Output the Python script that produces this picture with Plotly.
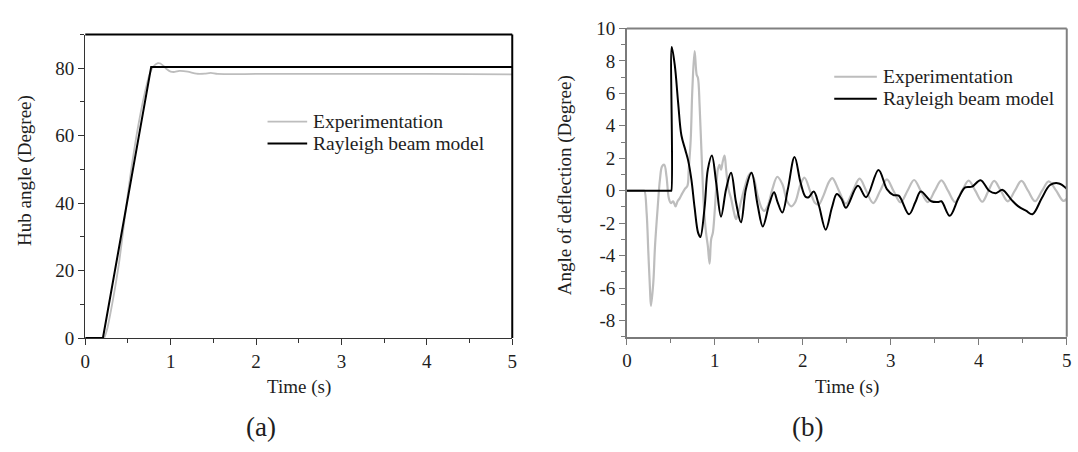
import plotly.graph_objects as go

# ---------------- Panel (a): hub angle ----------------
time_a_exp = [0, 0.2, 0.22, 0.26, 0.3, 0.35, 0.4, 0.45, 0.5, 0.55, 0.6, 0.65, 0.7, 0.75,
              0.8, 0.85, 0.88, 0.92, 0.96, 1.0, 1.05, 1.1, 1.2, 1.3, 1.4, 1.47, 1.55, 2.0, 3.0, 4.0, 5.0]
hub_exp = [0, 0, 0, 3, 8, 15, 23, 33, 43, 52, 60, 67, 73, 78,
           80.6, 81.5, 81.4, 80.6, 79.6, 79.0, 78.9, 79.2, 79.0, 78.4, 78.4, 78.6, 78.3, 78.3, 78.3, 78.3, 78.2]

time_a_model = [0, 0.207, 0.772, 5.0]
hub_model = [0, 0, 80.4, 80.4]

# ---------------- Panel (b): angle of deflection ----------------
time_b_exp = [0, 0.1, 0.19, 0.2, 0.225, 0.244, 0.263, 0.274, 0.3, 0.32, 0.35, 0.376, 0.4, 0.425, 0.45, 0.477,
              0.5, 0.526, 0.553, 0.575, 0.6, 0.628, 0.658, 0.688, 0.703, 0.726, 0.744, 0.77, 0.793,
              0.808, 0.827, 0.853, 0.876, 0.9, 0.92, 0.94, 0.958, 0.977, 0.996, 1.015, 1.034, 1.053,
              1.07, 1.09, 1.11, 1.128, 1.154, 1.184, 1.214, 1.24, 1.267, 1.297, 1.335, 1.38, 1.41,
              1.447, 1.485, 1.53, 1.56, 1.6, 1.654, 1.71, 1.767, 1.823, 1.87, 1.917, 1.974, 2.02,
              2.086, 2.14, 2.18, 2.237, 2.293, 2.335, 2.41, 2.49, 2.57, 2.645, 2.72, 2.80, 2.88,
              2.955, 3.03, 3.11, 3.19, 3.265, 3.34, 3.42, 3.50, 3.575, 3.65, 3.73, 3.81, 3.885,
              3.96, 4.04, 4.11, 4.175, 4.25, 4.33, 4.41, 4.485, 4.56, 4.64, 4.72, 4.795, 4.88,
              4.96, 5.0]
defl_exp = [0, 0, 0, 0, -1.4, -3.8, -6.1, -7.1, -5.7, -3.4, -1.05, 0.7, 1.5, 1.6, 0.9, -0.47,
            -0.76, -0.66, -0.96, -0.66, -0.47, -0.18, 0.1, 0.3, 1.3, 3.2, 6.2, 8.6, 7.15,
            6.95, 5.2, 1.7, -1.05, -2.6, -3.4, -4.5, -3.0, -2.6, -1.45, 0.12, 1.3, 1.6,
            1.3, 1.8, 2.17, 1.3, 0.12, -0.47, -1.25, -1.75, -1.35, -0.66, 0.12, 0.9, 1.1,
            0.7, -0.27, -1.05, -1.25, -0.96, 0.1, 0.86, 0.41, -0.66, -0.96, -0.66, 0.4, 0.8,
            -0.08, -0.76, -0.86, -0.27, 0.5, 0.78, 0.0, -0.8, 0.0, 0.74, 0.0, -0.76, 0.0,
            0.7, 0.0, -0.72, 0.0, 0.66, 0.0, -0.7, 0.0, 0.64, 0.0, -0.7, 0.0, 0.62,
            0.0, -0.68, 0.0, 0.6, 0.0, -0.66, 0.0, 0.6, 0.0, -0.65, 0.0, 0.58, 0.0,
            -0.63, -0.5]

time_b_model = [0, 0.25, 0.5, 0.505, 0.51, 0.545, 0.583, 0.62, 0.665, 0.695, 0.733, 0.77, 0.81, 0.835,
                0.883, 0.92, 0.966, 1.015, 1.07, 1.128, 1.184, 1.24, 1.297, 1.353, 1.417, 1.485,
                1.545, 1.617, 1.673, 1.71, 1.767, 1.83, 1.906, 1.974, 2.03, 2.067, 2.124, 2.18,
                2.26, 2.33, 2.386, 2.44, 2.49, 2.626, 2.72, 2.86, 2.955, 3.03, 3.09, 3.207,
                3.28, 3.34, 3.46, 3.536, 3.575, 3.67, 3.77, 3.846, 3.923, 4.02, 4.117, 4.194,
                4.27, 4.37, 4.446, 4.54, 4.61, 4.717, 4.81, 4.91, 5.0]
defl_model = [0, 0, 0, 0, 8.85, 7.7, 5.4, 3.4, 2.5, 1.9, 0.7, -1.05, -2.6, -2.85,
              -1.05, 1.3, 2.17, 0.5, -1.6, 0.1, 1.1, -0.7, -1.95, 0.1, 1.1, -0.85,
              -2.2, -0.85, -0.1, -0.65, -1.35, 0.1, 2.07, 0.5, -0.37, -0.4, -0.05, -0.85,
              -2.4, -1.05, -0.2, -0.5, -1.05, 0.3, -0.4, 1.28, 0.1, -0.27, -0.3, -1.45,
              -0.7, -0.05, -0.65, -0.7, -0.65, -1.55, -0.45, 0.2, 0.25, 0.65, 0.0, -0.15,
              0.05, -0.55, -0.95, -1.25, -1.45, -0.45, 0.35, 0.45, 0.12]

series_names = ["Experimentation", "Rayleigh beam model"]

x_tickvals = [0, 1, 2, 3, 4, 5]
x_ticktext = ["0", "1", "2", "3", "4", "5"]
ya_tickvals = [0, 20, 40, 60, 80]
ya_ticktext = ["0", "20", "40", "60", "80"]
yb_tickvals = [-8, -6, -4, -2, 0, 2, 4, 6, 8, 10]
yb_ticktext = ["-8", "-6", "-4", "-2", "0", "2", "4", "6", "8", "10"]

assert len(time_b_exp) == len(defl_exp)
assert len(time_b_model) == len(defl_model)
assert len(time_a_exp) == len(hub_exp)

W, H = 1078, 452
FONT = "Liberation Serif, Times New Roman, serif"
TXT = "#1e1e1e"
EXP_COLOR = "#bdbdbd"
TICK_SIZE = 19
TITLE_SIZE = 19
LEGEND_SIZE = 19.5
PANEL_SIZE = 27


def px_x(p):
    return p / W


def px_y(p):
    return 1 - p / H


fig = go.Figure()

fig.add_trace(go.Scatter(x=time_a_exp, y=hub_exp, mode="lines", name=series_names[0],
                         line=dict(color=EXP_COLOR, width=1.8, shape="spline", smoothing=0.6),
                         xaxis="x", yaxis="y", showlegend=False))
fig.add_trace(go.Scatter(x=time_a_model, y=hub_model, mode="lines", name=series_names[1],
                         line=dict(color="#000000", width=2),
                         xaxis="x", yaxis="y", showlegend=False))
fig.add_trace(go.Scatter(x=time_b_exp, y=defl_exp, mode="lines", name=series_names[0],
                         line=dict(color=EXP_COLOR, width=2.2, shape="spline", smoothing=1.0),
                         xaxis="x2", yaxis="y2", showlegend=False))
fig.add_trace(go.Scatter(x=time_b_model, y=defl_model, mode="lines", name=series_names[1],
                         line=dict(color="#000000", width=2, shape="spline", smoothing=1.0),
                         xaxis="x2", yaxis="y2", showlegend=False))

axis_font = dict(family=FONT, size=TICK_SIZE, color=TXT)

common_x = dict(range=[0, 5], tickmode="array", tickvals=x_tickvals, ticktext=x_ticktext,
                ticks="outside", ticklen=6, tickwidth=1.3, showgrid=False, zeroline=False,
                tickfont=axis_font, showline=True,
                minor=dict(ticks="outside", ticklen=4, tickmode="linear", tick0=0.5, dtick=1,
                           showgrid=False))

fig.update_layout(
    width=W, height=H,
    margin=dict(l=0, r=0, t=0, b=0),
    paper_bgcolor="white", plot_bgcolor="white",
    font=dict(family=FONT, color=TXT, size=TITLE_SIZE),
    showlegend=False,
    xaxis=dict(domain=[px_x(81), px_x(512)], anchor="y", linecolor="#333333", linewidth=1.3,
               tickcolor="#333333", **common_x),
    yaxis=dict(domain=[px_y(344), px_y(25.7)], anchor="x", range=[0, 90],
               tickmode="array", tickvals=ya_tickvals, ticktext=ya_ticktext,
               ticks="outside", ticklen=6, tickwidth=1.3, tickcolor="#333333",
               showline=True, linecolor="#333333", linewidth=1.3,
               showgrid=False, zeroline=False, tickfont=axis_font,
               minor=dict(ticks="outside", ticklen=4, tickmode="linear", tick0=10, dtick=20,
                          showgrid=False)),
    xaxis2=dict(domain=[px_x(627.7), px_x(1071.7)], anchor="y2", linecolor="#7a7a7a",
                linewidth=1.5, tickcolor="#7a7a7a", **common_x),
    yaxis2=dict(domain=[px_y(342.7), px_y(19.3)], anchor="x2", range=[-9, 10],
                tickmode="array", tickvals=yb_tickvals, ticktext=yb_ticktext,
                ticks="outside", ticklen=6, tickwidth=1.3, tickcolor="#7a7a7a",
                showline=True, linecolor="#7a7a7a", linewidth=1.5,
                showgrid=False, zeroline=False, tickfont=axis_font,
                minor=dict(ticks="outside", ticklen=4, tickmode="linear", tick0=-9, dtick=2,
                           showgrid=False)),
)

# Frame lines (top/right) of the two panels
fig.add_shape(type="line", xref="x domain", yref="y domain", x0=0, x1=1, y0=1, y1=1,
              line=dict(color="#000000", width=2))
fig.add_shape(type="line", xref="x domain", yref="y domain", x0=1, x1=1, y0=0, y1=1,
              line=dict(color="#000000", width=2))
fig.add_shape(type="line", xref="x2 domain", yref="y2 domain", x0=0, x1=1, y0=1, y1=1,
              line=dict(color="#808080", width=2))
fig.add_shape(type="line", xref="x2 domain", yref="y2 domain", x0=1, x1=1, y0=0, y1=1,
              line=dict(color="#808080", width=2))

# Legends (sample line + label) for each panel
legend_specs = [
    # (line x0, line x1, text x, [y of each entry]) in pixels
    (265, 305, 309, [117, 140]),
    (837, 880, 884, [70, 93]),
]
legend_colors = [EXP_COLOR, "#000000"]
legend_widths = [[1.8, 2], [2.2, 2]]
for pi, (lx0, lx1, tx, ys) in enumerate(legend_specs):
    for si, yy in enumerate(ys):
        fig.add_shape(type="line", xref="paper", yref="paper",
                      x0=px_x(lx0), x1=px_x(lx1), y0=px_y(yy), y1=px_y(yy),
                      line=dict(color=legend_colors[si], width=legend_widths[pi][si]))
        fig.add_annotation(xref="paper", yref="paper", x=px_x(tx), y=px_y(yy),
                           text=series_names[si], showarrow=False, xanchor="left",
                           yanchor="middle",
                           font=dict(family=FONT, size=LEGEND_SIZE, color=TXT))

# Axis titles and panel labels
annots = [
    dict(text="Time (s)", x=px_x(297), y=px_y(395), font=dict(size=TITLE_SIZE)),
    dict(text="Time (s)", x=px_x(850), y=px_y(395), font=dict(size=TITLE_SIZE)),
    dict(text="Hub angle (Degree)", x=px_x(20), y=px_y(168), textangle=-90,
         font=dict(size=TITLE_SIZE)),
    dict(text="Angle of deflection (Degree)", x=px_x(566), y=px_y(184), textangle=-90,
         font=dict(size=TITLE_SIZE)),
    dict(text="(a)", x=px_x(258), y=px_y(437), font=dict(size=PANEL_SIZE)),
    dict(text="(b)", x=px_x(810), y=px_y(437), font=dict(size=PANEL_SIZE)),
]
for a in annots:
    fig.add_annotation(xref="paper", yref="paper", showarrow=False, xanchor="center",
                       yanchor="middle", font_family=FONT, font_color=TXT, **a)

fig.write_html("out.html")
